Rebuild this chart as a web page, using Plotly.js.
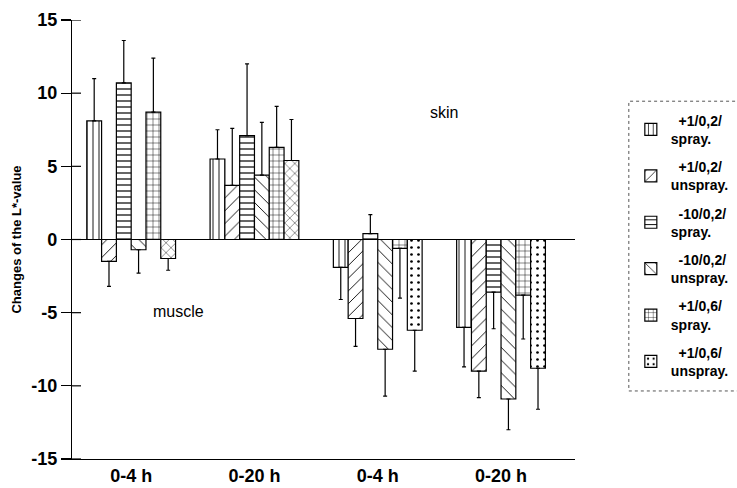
<!DOCTYPE html>
<html>
<head>
<meta charset="utf-8">
<script src="https://cdn.plot.ly/plotly-3.0.1.min.js"></script>
<style>html,body{margin:0;padding:0;background:#fff;}#chart{width:737px;height:488px;}</style>
</head>
<body>
<div id="chart"></div>
<script>
// Categories (two tissue blocks: muscle, skin)
const groups = ["0-4 h", "0-20 h", "0-4 h", "0-20 h"];
const groupPos = [0, 1, 2, 3];
const yTicks = [-15, -10, -5, 0, 5, 10, 15];

// Series names (legend labels)
const seriesNames = [
  "\u00a0\u00a0+1/0,2/<br>spray.",
  "\u00a0\u00a0+1/0,2/<br>unspray.",
  "\u00a0\u00a0-10/0,2/<br>spray.",
  "\u00a0\u00a0-10/0,2/<br>unspray.",
  "\u00a0\u00a0+1/0,6/<br>spray.",
  "\u00a0\u00a0+1/0,6/<br>unspray."
];

// Mean changes of L*-value
const p1_02_spray   = [8.1, 5.5, -1.9, -6.0];
const p1_02_unspray = [-1.5, 3.7, -5.4, -9.0];
const m10_02_spray  = [10.7, 7.1, 0.4, -3.6];
const m10_02_unspray= [-0.7, 4.4, -7.5, -10.9];
const p1_06_spray   = [8.7, 6.3, -0.6, -3.8];
const p1_06_unspray = [-1.3, 5.4, -6.2, -8.8];

// Standard deviations (drawn away from zero)
const sd_p1_02_spray   = [2.9, 2.0, 2.2, 2.7];
const sd_p1_02_unspray = [1.7, 3.9, 1.9, 1.8];
const sd_m10_02_spray  = [2.9, 4.9, 1.3, 2.5];
const sd_m10_02_unspray= [1.6, 3.6, 3.2, 2.1];
const sd_p1_06_spray   = [3.7, 2.8, 3.4, 3.0];
const sd_p1_06_unspray = [0.8, 2.8, 2.8, 2.8];

const values = [p1_02_spray, p1_02_unspray, m10_02_spray, m10_02_unspray, p1_06_spray, p1_06_unspray];
const sds = [sd_p1_02_spray, sd_p1_02_unspray, sd_m10_02_spray, sd_m10_02_unspray, sd_p1_06_spray, sd_p1_06_unspray];

// fill patterns per series, per group (muscle, muscle, skin, skin)
const patternShapes = [
  ["|", "|", "|", "|"],
  ["/", "/", "/", "/"],
  ["-", "-", "-", "-"],
  ["\\", "\\", "\\", "\\"],
  ["+", "+", "+", "+"],
  ["x", "x", ".", "."]
];
const patternSizes = [6, 9, 6, 9, 6, 7];
const patternSolidity = [0.15, 0.1, 0.2, 0.1, 0.15, 0.12];

// points listed last-group-first so the legend swatch shows the skin pattern
const rev = a => a.slice().reverse();

const traces = values.map((v, k) => ({
  type: "bar",
  x: rev(groupPos),
  y: rev(v),
  name: seriesNames[k],
  legendgroup: "g" + k,
  marker: {
    color: "#ffffff",
    line: {color: "#000000", width: 1.2},
    pattern: {
      shape: rev(patternShapes[k]),
      size: patternSizes[k],
      solidity: patternSolidity[k],
      fgcolor: "#000000",
      bgcolor: "#ffffff",
      fillmode: "replace"
    }
  },
  error_y: {
    type: "data",
    symmetric: false,
    array: rev(v.map((y, i) => y >= 0 ? sds[k][i] : 0)),
    arrayminus: rev(v.map((y, i) => y < 0 ? sds[k][i] : 0)),
    color: "#000000",
    thickness: 1.2,
    width: 2
  },
  hoverinfo: "skip"
}));

const font = "Liberation Sans, Arial, sans-serif";

// inner half of the crossing y-axis ticks
const innerTicks = yTicks.map(t => ({
  type: "line", xref: "paper", yref: "y", xsizemode: "pixel", xanchor: 0,
  x0: 0, x1: 9, y0: t, y1: t, line: {color: "#000000", width: 1.2}
}));

const layout = {
  width: 737,
  height: 488,
  paper_bgcolor: "#ffffff",
  plot_bgcolor: "#ffffff",
  margin: {l: 72, r: 162, t: 20, b: 29, autoexpand: false},
  barmode: "group",
  bargap: 0.28,
  bargroupgap: 0,
  showlegend: true,
  font: {family: font, color: "#000000"},
  xaxis: {
    range: [-0.48, 3.6],
    tickvals: groupPos,
    ticktext: groups,
    ticks: "",
    showline: true,
    linecolor: "#000000",
    linewidth: 1.2,
    showgrid: false,
    zeroline: false,
    tickfont: {family: font, size: 18, weight: "bold"},
    fixedrange: true
  },
  yaxis: {
    range: [-15, 15],
    tickvals: yTicks,
    ticktext: yTicks.map(String),
    ticks: "outside",
    ticklen: 10,
    tickwidth: 1.2,
    tickcolor: "#000000",
    showline: true,
    linecolor: "#000000",
    linewidth: 1.2,
    showgrid: false,
    zeroline: true,
    zerolinecolor: "#000000",
    zerolinewidth: 1.2,
    tickfont: {family: font, size: 18, weight: "bold"},
    title: {text: "Changes of the L*-value", font: {family: font, size: 13, weight: "bold"}, standoff: 6},
    fixedrange: true
  },
  legend: {
    x: 1.111,
    xanchor: "left",
    y: 0.807,
    yanchor: "top",
    traceorder: "grouped",
    tracegroupgap: 7,
    font: {family: font, size: 14, weight: "bold"},
    bgcolor: "rgba(0,0,0,0)",
    borderwidth: 0
  },
  annotations: [
    {x: 0.38, y: -4.9, xref: "x", yref: "y", text: "muscle", showarrow: false, font: {family: font, size: 16, color: "#000"}},
    {x: 2.54, y: 8.7, xref: "x", yref: "y", text: "skin", showarrow: false, font: {family: font, size: 16, color: "#000"}}
  ],
  shapes: [
    {type: "rect", xref: "paper", yref: "paper", x0: 1.107, x1: 1.36, y0: 0.155, y1: 0.815,
     line: {color: "#555555", width: 1, dash: "dot"}, fillcolor: "rgba(0,0,0,0)"}
  ].concat(innerTicks)
};

Plotly.newPlot("chart", traces, layout, {displayModeBar: false, staticPlot: true});
</script>
</body>
</html>
